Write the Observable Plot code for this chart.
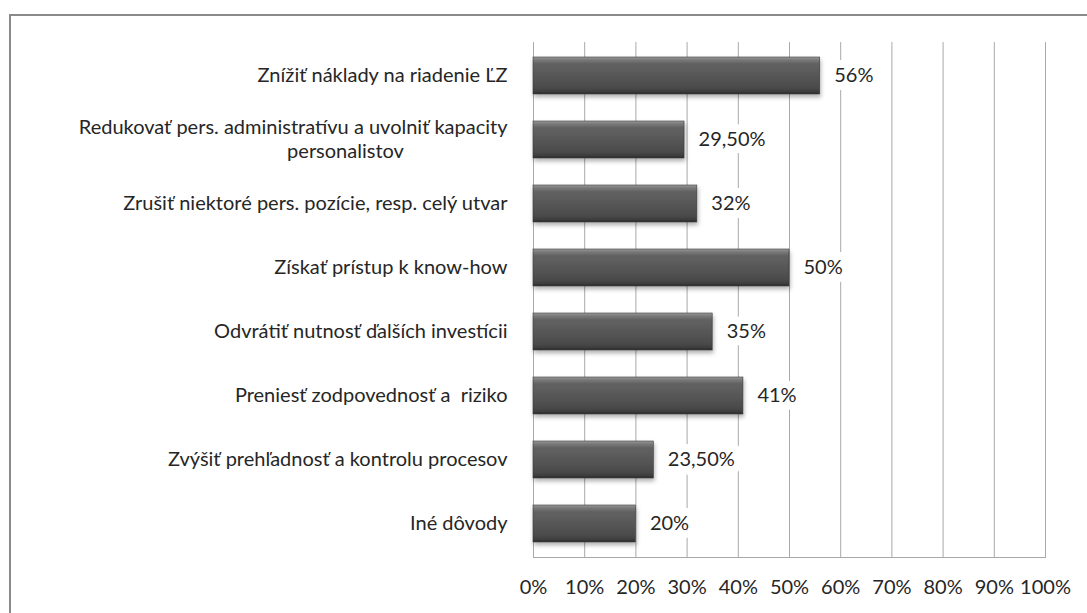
<!DOCTYPE html>
<html>
<head>
<meta charset="utf-8">
<script src="https://cdn.jsdelivr.net/npm/d3@7"></script>
<script src="https://cdn.jsdelivr.net/npm/@observablehq/plot@0.6"></script>
<style>
  html, body { margin: 0; padding: 0; background: #fff; overflow: hidden; }
  #frame { position: absolute; left: 9px; top: 14px; width: 1200px; height: 800px; border: 2px solid #8a8a8a; box-sizing: border-box; }
  #chart { position: absolute; left: 0; top: 0; }
</style>
</head>
<body>
<div id="frame"></div>
<div id="chart"></div>
<script>
const categories = [
  "Znížiť náklady na riadenie ĽZ",
  "Redukovať pers. administratívu a uvolniť kapacity personalistov",
  "Zrušiť niektoré pers. pozície, resp. celý utvar",
  "Získať prístup k know-how",
  "Odvrátiť nutnosť ďalších investícii",
  "Preniesť zodpovednosť a  riziko",
  "Zvýšiť prehľadnosť a kontrolu procesov",
  "Iné dôvody"
];
const labelLines = [
  ["Znížiť náklady na riadenie ĽZ"],
  ["Redukovať pers. administratívu a uvolniť kapacity", "personalistov"],
  ["Zrušiť niektoré pers. pozície, resp. celý utvar"],
  ["Získať prístup k know-how"],
  ["Odvrátiť nutnosť ďalších investícii"],
  ["Preniesť zodpovednosť a  riziko"],
  ["Zvýšiť prehľadnosť a kontrolu procesov"],
  ["Iné dôvody"]
];
const values = [0.56, 0.295, 0.32, 0.50, 0.35, 0.41, 0.235, 0.20];
const valueLabels = ["56%", "29,50%", "32%", "50%", "35%", "41%", "23,50%", "20%"];
const xTicks = [0, 0.1, 0.2, 0.3, 0.4, 0.5, 0.6, 0.7, 0.8, 0.9, 1.0];
const xTickLabels = ["0%", "10%", "20%", "30%", "40%", "50%", "60%", "70%", "80%", "90%", "100%"];

const data = categories.map((c, i) => ({cat: c, value: values[i], label: valueLabels[i], lines: labelLines[i]}));
const single = data.filter(d => d.lines.length === 1).map(d => ({cat: d.cat, text: d.lines[0]}));
const firstOfTwo = data.filter(d => d.lines.length === 2).map(d => ({cat: d.cat, text: d.lines[0]}));
const secondOfTwo = data.filter(d => d.lines.length === 2).map(d => ({cat: d.cat, text: d.lines[1]}));

const textColor = "#262626";
const chart = Plot.plot({
  width: 1087,
  height: 613,
  marginLeft: 533,
  marginRight: 42,
  marginTop: 42,
  marginBottom: 56,
  style: {fontFamily: "Lato, sans-serif", fontSize: "20px", color: textColor, background: "transparent"},
  x: {domain: [0, 1], axis: null, label: null},
  y: {domain: categories, paddingInner: 0.425, paddingOuter: 0.2125, axis: null, label: null},
  marks: [
    Plot.gridX(xTicks, {stroke: "#a8a8a8", strokeOpacity: 1, strokeWidth: 1}),
    Plot.frame({anchor: "bottom", stroke: "#a8a8a8", strokeWidth: 1}),
    Plot.axisX(xTicks, {tickSize: 0, tickPadding: 22, label: null, tickFormat: (d) => xTickLabels[xTicks.indexOf(d)], fontSize: 20, fill: textColor}),
    Plot.text(data, {x: "value", y: "cat", text: "label", textAnchor: "start", dx: 14, fill: textColor, fontSize: 20, stroke: "white", strokeWidth: 16, strokeLinejoin: "round"}),
    Plot.barX(data, {x: "value", y: "cat", fill: "url(#barGrad)", stroke: "#3a3a3a", strokeWidth: 0.6}),
    Plot.text(single, {y: "cat", text: "text", frameAnchor: "left", textAnchor: "end", dx: -26, fill: textColor, fontSize: 20}),
    Plot.text(firstOfTwo, {y: "cat", text: "text", frameAnchor: "left", textAnchor: "end", dx: -26, dy: -12, fill: textColor, fontSize: 20}),
    Plot.text(secondOfTwo, {y: "cat", text: "text", frameAnchor: "left", textAnchor: "middle", dx: -188, dy: 12, fill: textColor, fontSize: 20})
  ]
});

const svg = chart.tagName.toLowerCase() === "svg" ? chart : chart.querySelector("svg");
const defs = d3.select(svg).insert("defs", ":first-child");
const g = defs.append("linearGradient").attr("id", "barGrad").attr("x1", 0).attr("y1", 0).attr("x2", 0).attr("y2", 1);
[[0, "#9c9c9c"], [0.07, "#7c7c7c"], [0.18, "#626262"], [0.5, "#575757"], [0.82, "#4b4b4b"], [0.93, "#3e3e3e"], [1, "#2a2a2a"]]
  .forEach(([o, c]) => g.append("stop").attr("offset", o).attr("stop-color", c));
const f = defs.append("filter").attr("id", "barShadow").attr("x", "-5%").attr("y", "-20%").attr("width", "115%").attr("height", "160%");
f.append("feDropShadow").attr("dx", 1).attr("dy", 3).attr("stdDeviation", 2).attr("flood-color", "#000").attr("flood-opacity", 0.3);
d3.select(svg).selectAll('g[aria-label="bar"]').attr("filter", "url(#barShadow)");

document.getElementById("chart").appendChild(chart);
</script>
</body>
</html>
